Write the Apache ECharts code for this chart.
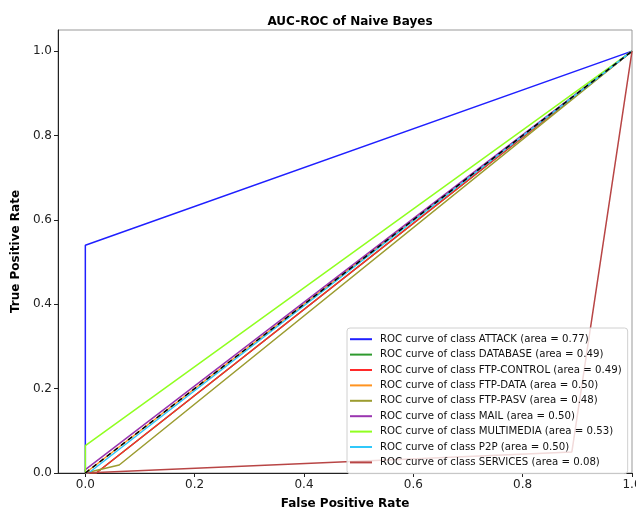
<!DOCTYPE html>
<html>
<head>
<meta charset="utf-8">
<script src="https://cdn.jsdelivr.net/npm/echarts@6/dist/echarts.min.js"></script>
<style>html,body{margin:0;padding:0;background:#fff;}#c{width:636px;height:510px;}</style>
</head>
<body>
<div id="c"></div>
<script>
const classes = ['ATTACK','DATABASE','FTP-CONTROL','FTP-DATA','FTP-PASV','MAIL','MULTIMEDIA','P2P','SERVICES'];
const aucs = ['0.77','0.49','0.49','0.50','0.48','0.50','0.53','0.50','0.08'];
const fprAttack = [0, 0, 1];        const tprAttack = [0, 0.54, 1];
const fprDatabase = [0, 0.02, 1];   const tprDatabase = [0, 0, 1];
const fprFtpControl = [0, 0.02, 1]; const tprFtpControl = [0, 0, 1];
const fprFtpData = [0, 1];          const tprFtpData = [0, 1];
const fprFtpPasv = [0, 0.062, 1];   const tprFtpPasv = [0, 0.019, 1];
const fprMail = [0, 0, 1];          const tprMail = [0, 0.008, 1];
const fprMultimedia = [0, 0, 1];    const tprMultimedia = [0, 0.065, 1];
const fprP2p = [0, 0.006, 1];       const tprP2p = [0, 0, 1];
const fprServices = [0, 0.89, 1];   const tprServices = [0, 0.05, 1];
const diagX = [0, 1];               const diagY = [0, 1];
const xTicks = [0, 0.2, 0.4, 0.6, 0.8, 1.0];
const yTicks = [0, 0.2, 0.4, 0.6, 0.8, 1.0];

const fprs = [fprAttack, fprDatabase, fprFtpControl, fprFtpData, fprFtpPasv, fprMail, fprMultimedia, fprP2p, fprServices];
const tprs = [tprAttack, tprDatabase, tprFtpControl, tprFtpData, tprFtpPasv, tprMail, tprMultimedia, tprP2p, tprServices];
const colors = ['#1f1fff','#2e9a2e','#ff2a2a','#ff9320','#9c9c30','#9a35b0','#90ff20','#30c8fa','#b84545'];
const zip = (a, b) => a.map((v, i) => [v, b[i]]);

const names = classes.map((c, i) => 'ROC curve of class ' + c + ' (area = ' + aucs[i] + ')');
const series = names.map((n, i) => ({
  name: n, type: 'line', data: zip(fprs[i], tprs[i]), showSymbol: false, symbol: 'none',
  lineStyle: { width: 1.5, color: colors[i] }, itemStyle: { color: colors[i] }, animation: false, z: 2
}));
series.push({
  name: 'diag', type: 'line', data: zip(diagX, diagY), symbol: 'none',
  lineStyle: { width: 1.5, color: '#000', type: [5, 4] }, animation: false, z: 2
});

const chart = echarts.init(document.getElementById('c'), null, { renderer: 'canvas' });
const font = 'DejaVu Sans';
chart.setOption({
  backgroundColor: '#fff',
  animation: false,
  title: { text: 'AUC-ROC of Naive Bayes', left: 345, textAlign: 'center', top: 11,
    textStyle: { fontFamily: font, fontSize: 12, fontWeight: 'bold', color: '#000' } },
  grid: { left: 58, right: 4, top: 30, bottom: 37, show: true, borderColor: '#999', borderWidth: 1,
    outerBoundsMode: 'none', containLabel: false },
  xAxis: {
    type: 'value', min: -0.05, max: 1.0,
    name: 'False Positive Rate', nameLocation: 'middle', nameGap: 25,
    nameTextStyle: { fontFamily: font, fontSize: 12, fontWeight: 'bold', color: '#000' },
    axisLine: { onZero: false, lineStyle: { color: '#222', width: 1 } },
    axisTick: { length: 4, lineStyle: { color: '#222' }, customValues: xTicks },
    axisLabel: { fontFamily: font, fontSize: 12, color: '#222', margin: 6, customValues: xTicks,
      formatter: v => v.toFixed(1) },
    splitLine: { show: false }
  },
  yAxis: {
    type: 'value', min: 0, max: 1.05,
    name: 'True Positive Rate', nameLocation: 'middle', nameGap: 32,
    nameTextStyle: { fontFamily: font, fontSize: 12, fontWeight: 'bold', color: '#000' },
    axisLine: { show: true, onZero: false, lineStyle: { color: '#222', width: 1 } },
    axisTick: { show: true, length: 4, lineStyle: { color: '#222' }, customValues: yTicks },
    axisLabel: { fontFamily: font, fontSize: 12, color: '#222', margin: 6, customValues: yTicks,
      formatter: v => v.toFixed(1) },
    splitLine: { show: false }
  },
  legend: {
    data: names, orient: 'vertical', left: 347, top: 328, z: 10,
    icon: 'rect', itemWidth: 22, itemHeight: 2, itemGap: 3,
    padding: [5, 6, 5, 3], backgroundColor: 'rgba(255,255,255,0.8)',
    borderColor: '#d0d0d0', borderWidth: 1, borderRadius: 3,
    textStyle: { fontFamily: font, fontSize: 10.2, color: '#111', lineHeight: 12.4, padding: [0, 0, 0, 3] },
    selectedMode: false
  },
  series: series
});
</script>
</body>
</html>
